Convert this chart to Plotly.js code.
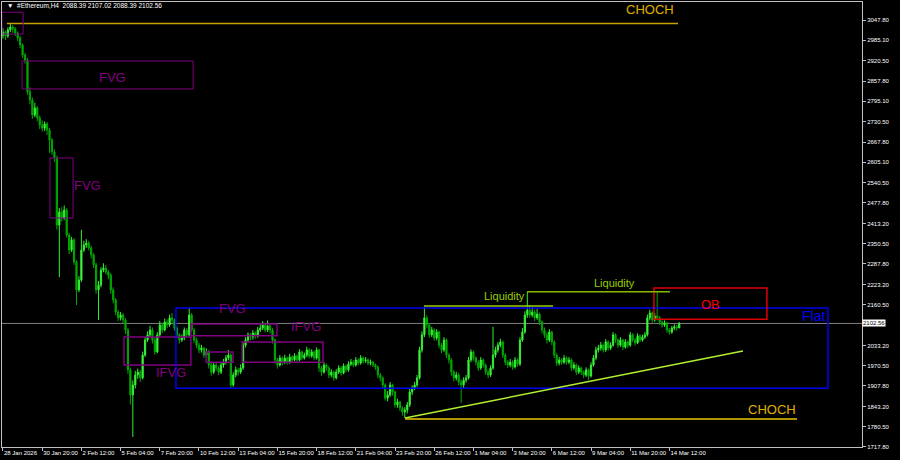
<!DOCTYPE html>
<html>
<head>
<meta charset="utf-8">
<script src="https://cdn.plot.ly/plotly-3.0.1.min.js"></script>
<style>html,body{margin:0;padding:0;background:#000;}#chart{width:900px;height:460px;}</style>
</head>
<body>
<div id="chart"></div>
<script>
const openP = [3000,3010,2998,3017,3026,3020,3007,2992,2970,2939,2923,2824,2799,2752,2774,2743,2721,2711,2724,2705,2674,2637,2618,2409,2450,2431,2456,2378,2331,2363,2294,2207,2238,2331,2347,2353,2338,2316,2285,2207,2222,2269,2275,2263,2253,2207,2176,2138,2120,2129,2113,2082,1958,1880,1911,1942,1951,1933,2004,2051,2067,2082,2051,2014,2067,2098,2082,2107,2098,2120,2113,2088,2067,2051,2057,2082,2067,2129,2082,2051,2035,2020,2026,2004,2014,1973,1951,1973,1964,1951,1973,1982,1995,2004,1911,1942,1958,1951,1964,2035,2051,2067,2060,2073,2064,2082,2088,2098,2082,2095,2082,2051,1989,1973,1995,1982,1995,1982,1998,1989,2001,1989,2014,1995,2004,2020,2001,2014,1995,2020,1964,1951,1973,1964,1942,1951,1933,1951,1964,1948,1970,1958,1976,1982,1973,1989,1979,1995,1986,1989,1979,1982,1973,1967,1942,1933,1911,1870,1880,1911,1889,1849,1858,1839,1827,1833,1849,1889,1901,1911,1933,2020,2067,2120,2098,2067,2082,2057,2076,2035,2020,2051,2004,1989,1951,1933,1942,1920,1911,1926,1933,1989,2014,1995,1982,1964,1989,1973,1951,1942,1964,2004,2020,2035,2045,2004,1982,1973,1982,1967,1989,1976,2051,2076,2129,2144,2129,2138,2120,2132,2107,2082,2067,2051,2076,2045,2004,1979,1989,1982,1995,1982,1989,1964,1973,1951,1964,1951,1942,1958,1939,1973,1995,2020,2026,2035,2020,2045,2026,2035,2067,2051,2035,2051,2029,2045,2035,2067,2051,2042,2064,2051,2060,2067,2120,2135,2113,2126,2120,2107,2098,2104,2082,2076,2088,2092,2088.39];
const closeP = [3010,2998,3017,3026,3020,3007,2992,2970,2939,2923,2824,2799,2752,2774,2743,2721,2711,2724,2705,2674,2637,2618,2409,2450,2431,2456,2378,2331,2363,2294,2207,2238,2331,2347,2353,2338,2316,2285,2207,2222,2269,2275,2263,2253,2207,2176,2138,2120,2129,2113,2082,1958,1880,1911,1942,1951,1933,2004,2051,2067,2082,2051,2014,2067,2098,2082,2107,2098,2120,2113,2088,2067,2051,2057,2082,2067,2129,2082,2051,2035,2020,2026,2004,2014,1973,1951,1973,1964,1951,1973,1982,1995,2004,1911,1942,1958,1951,1964,2035,2051,2067,2060,2073,2064,2082,2088,2098,2082,2095,2082,2051,1989,1973,1995,1982,1995,1982,1998,1989,2001,1989,2014,1995,2004,2020,2001,2014,1995,2020,1964,1951,1973,1964,1942,1951,1933,1951,1964,1948,1970,1958,1976,1982,1973,1989,1979,1995,1986,1989,1979,1982,1973,1967,1942,1933,1911,1870,1880,1911,1889,1849,1858,1839,1827,1833,1849,1889,1901,1911,1933,2020,2067,2120,2098,2067,2082,2057,2076,2035,2020,2051,2004,1989,1951,1933,1942,1920,1911,1926,1933,1989,2014,1995,1982,1964,1989,1973,1951,1942,1964,2004,2020,2035,2045,2004,1982,1973,1982,1967,1989,1976,2051,2076,2129,2144,2129,2138,2120,2132,2107,2082,2067,2051,2076,2045,2004,1979,1989,1982,1995,1982,1989,1964,1973,1951,1964,1951,1942,1958,1939,1973,1995,2020,2026,2035,2020,2045,2026,2035,2067,2051,2035,2051,2029,2045,2035,2067,2051,2042,2064,2051,2060,2067,2120,2135,2113,2126,2120,2107,2098,2104,2082,2076,2088,2092,2088.39,2102.56];
const highP = [3022,3015,3025,3035,3032,3026,3012,2998,2975,2945,2930,2838,2806,2790,2780,2750,2735,2732,2730,2712,2680,2645,2625,2462,2465,2470,2462,2385,2372,2368,2300,2250,2394,2360,2365,2360,2345,2322,2292,2235,2278,2290,2285,2270,2260,2215,2182,2145,2138,2135,2120,2088,1965,1925,1955,1962,1958,2015,2060,2078,2095,2090,2058,2075,2110,2105,2118,2115,2130,2135,2118,2095,2072,2068,2090,2088,2151,2135,2088,2058,2042,2036,2030,2025,2020,1980,1982,1980,1970,1980,1992,2004,2020,2010,1950,1968,1965,1975,2045,2060,2075,2072,2082,2078,2092,2100,2110,2104,2112,2100,2088,2055,1995,2004,2000,2005,2000,2008,2004,2010,2006,2022,2018,2012,2030,2025,2022,2018,2028,2024,1970,1982,1978,1970,1960,1956,1960,1972,1970,1978,1975,1985,1992,1988,1998,1994,2004,2000,1998,1994,1990,1986,1978,1972,1948,1938,1916,1892,1920,1915,1894,1868,1862,1845,1842,1858,1898,1910,1920,1942,2030,2078,2154,2128,2104,2092,2088,2085,2080,2042,2060,2056,2010,1995,1958,1952,1948,1928,1935,1942,1998,2022,2018,2000,1988,1998,1994,1978,1958,1972,2092,2030,2044,2055,2050,2010,1988,1992,1988,1998,1994,2060,2088,2140,2201,2160,2155,2145,2148,2136,2112,2090,2075,2085,2080,2050,2010,1998,1995,2004,2000,1998,1994,1982,1978,1972,1968,1956,1966,1962,1982,2004,2030,2036,2045,2040,2054,2050,2044,2076,2072,2056,2060,2055,2054,2050,2076,2072,2058,2072,2068,2068,2076,2130,2145,2140,2135,2201,2125,2112,2112,2108,2088,2095,2100,2098,2107.02];
const lowP = [2990,2985,2992,3010,3008,2998,2982,2960,2930,2912,2815,2785,2740,2745,2732,2708,2700,2702,2690,2634,2628,2606,2395,2247,2420,2425,2370,2318,2325,2285,2160,2200,2232,2325,2338,2330,2305,2275,2195,2113,2215,2262,2255,2240,2195,2165,2128,2110,2112,2104,2070,1945,1850,1749,1900,1930,1920,1928,1998,2045,2060,2040,2005,2010,2060,2072,2078,2088,2092,2105,2080,2058,2040,2045,2050,2058,2062,2075,2042,2025,2010,2012,1995,1998,1962,1940,1945,1955,1942,1945,1965,1975,1988,1900,1905,1935,1940,1945,1958,2028,2045,2050,2052,2055,2058,2076,2082,2075,2076,2072,2040,1978,1962,1968,1972,1976,1974,1977,1980,1984,1980,1985,1988,1990,1998,1994,1996,1988,1990,1952,1940,1946,1955,1932,1935,1924,1928,1945,1940,1944,1950,1952,1970,1966,1968,1972,1974,1978,1980,1972,1972,1966,1958,1932,1922,1900,1862,1860,1874,1878,1840,1840,1830,1815,1808,1822,1842,1880,1895,1905,1928,2012,2060,2088,2058,2060,2048,2050,2025,2010,2014,1995,1978,1940,1922,1925,1910,1855,1900,1918,1928,1982,1986,1972,1955,1958,1965,1942,1932,1936,1958,1996,2012,2028,1995,1972,1964,1966,1958,1962,1968,1970,2045,2070,2120,2120,2122,2110,2114,2098,2072,2058,2040,2045,2035,1995,1970,1972,1974,1976,1974,1976,1955,1958,1942,1945,1942,1932,1936,1926,1934,1968,1988,2012,2018,2012,2014,2018,2020,2030,2042,2026,2030,2020,2024,2026,2030,2044,2034,2038,2044,2046,2054,2062,2112,2105,2108,2112,2098,2090,2092,2074,2068,2070,2082,2080,2088.39];
const xTickText = ["28 Jan 2026","30 Jan 20:00","2 Feb 12:00","5 Feb 04:00","7 Feb 20:00","10 Feb 12:00","13 Feb 04:00","15 Feb 20:00","18 Feb 12:00","21 Feb 04:00","23 Feb 20:00","26 Feb 12:00","1 Mar 04:00","3 Mar 20:00","6 Mar 12:00","9 Mar 04:00","11 Mar 20:00","14 Mar 12:00"];
const yTickVals = [3047.80,2985.10,2920.50,2857.80,2795.10,2730.50,2667.80,2605.10,2540.50,2477.80,2413.20,2350.50,2287.80,2223.20,2160.50,2033.20,1970.50,1907.80,1843.20,1780.50,1717.80];
const lastPrice = 2102.56;
const header = "#Ethereum,H4  2088.39 2107.02 2088.39 2102.56";

const barIdx = closeP.map((_, i) => i);
const xTickVals = xTickText.map((_, i) => i * 16);

const trace = {
  type: 'candlestick', x: barIdx, open: openP, high: highP, low: lowP, close: closeP,
  increasing: {line: {color: '#33ee33', width: 1}, fillcolor: '#55ff55'},
  decreasing: {line: {color: '#00a800', width: 1}, fillcolor: '#00a800'},
  whiskerwidth: 0, hoverinfo: 'skip', showlegend: false
};

const purple = '#800080';
function box(x0, x1, y0, y1, color, w) {
  return {type: 'rect', xref: 'x', yref: 'y', x0, x1, y0, y1, line: {color, width: w || 1}, fillcolor: 'rgba(0,0,0,0)', layer: 'above'};
}
function seg(x0, x1, y0, y1, color, w) {
  return {type: 'line', xref: 'x', yref: 'y', x0, x1, y0, y1, line: {color, width: w || 1.5}, layer: 'above'};
}
function lbl(x, y, text, color, size) {
  return {x, y, xref: 'x', yref: 'y', text, showarrow: false, font: {family: 'Liberation Sans, Arial', size, color}};
}

const shapes = [
  {type: 'line', xref: 'paper', yref: 'y', x0: 0, x1: 1, y0: lastPrice, y1: lastPrice, line: {color: '#808080', width: 1}, layer: 'below'},
  seg(1.6, 275.5, 3037, 3037, '#c8a000', 1.5),
  box(-0.4, 8.2, 3072, 3004, purple),
  box(7.8, 77.6, 2920, 2833, purple),
  box(19.2, 28.6, 2618, 2431, purple),
  box(49.4, 76.7, 2060, 1973, purple, 1.5),
  box(76.7, 111.8, 2101, 2064, purple, 1.5),
  box(82.9, 93.9, 2014, 1982, purple, 1.5),
  box(97.6, 130.6, 2045, 1982, purple, 1.5),
  box(70.6, 336.7, 2151, 1901, '#0000ee', 1.5),
  box(265.7, 311.8, 2213, 2116, '#dd0000', 1.5),
  seg(171.8, 224.5, 2157, 2157, '#99cc00', 1.5),
  seg(213.9, 272.2, 2201, 2201, '#88bb00', 1.5),
  seg(164.1, 302, 1808, 2017, '#b0f030', 1.5),
  seg(164.1, 324.1, 1805, 1805, '#e8c800', 1.5)
];

const annotations = [
  lbl(264, 3079, 'CHOCH', '#e0b000', 13),
  lbl(44.5, 2870, 'FVG', purple, 13),
  lbl(34.3, 2531, 'FVG', purple, 13),
  lbl(68.6, 1951, 'IFVG', purple, 13),
  lbl(93.5, 2148, 'FVG', purple, 13),
  lbl(123.7, 2092, 'IFVG', purple, 13),
  lbl(204.5, 2188, 'Liquidity', '#99cc00', 11),
  lbl(249.4, 2229, 'Liquidity', '#99cc00', 11),
  lbl(288.6, 2163, 'OB', '#ff0000', 13),
  lbl(330.6, 2126, 'Flat', '#0000ff', 14),
  lbl(313.9, 1836, 'CHOCH', '#e0b000', 13),
  {x: 1, xref: 'paper', y: lastPrice, yref: 'y', xanchor: 'left', yanchor: 'middle', text: '2102.56', showarrow: false,
   bgcolor: '#ffffff', borderpad: 0, font: {family: 'Liberation Sans, Arial', size: 6, color: '#000000'}},
  {x: 0, xref: 'paper', y: 0.992, yref: 'paper', xanchor: 'left', yanchor: 'middle', text: '\u25BC  ' + header, showarrow: false,
   xshift: 3, font: {family: 'Liberation Sans, Arial', size: 6.5, color: '#ffffff'}}
];

const layout = {
  width: 900, height: 460,
  paper_bgcolor: '#000000', plot_bgcolor: '#000000',
  margin: {l: 2, r: 38, t: 2, b: 13},
  showlegend: false,
  xaxis: {
    type: 'linear', range: [-0.4, 350.6], rangeslider: {visible: false},
    tickvals: xTickVals, ticktext: xTickText, tickmode: 'array', tickangle: 0,
    ticks: 'outside', ticklen: 3, tickcolor: '#c0c0c0', ticklabelposition: 'outside right',
    tickfont: {family: 'Liberation Sans, Arial', size: 6, color: '#ffffff'},
    showgrid: false, zeroline: false, showline: true, linecolor: '#c0c0c0', linewidth: 1, mirror: true, fixedrange: true
  },
  yaxis: {
    side: 'right', range: [1717.7, 3103.9], tickmode: 'array', tickvals: yTickVals,
    ticktext: yTickVals.map(v => v.toFixed(2)),
    ticks: 'outside', ticklen: 3, tickcolor: '#c0c0c0',
    tickfont: {family: 'Liberation Sans, Arial', size: 6, color: '#ffffff'},
    showgrid: false, zeroline: false, showline: true, linecolor: '#c0c0c0', linewidth: 1, mirror: true, fixedrange: true
  },
  shapes, annotations
};

Plotly.newPlot('chart', [trace], layout, {staticPlot: true, displayModeBar: false});
</script>
</body>
</html>
